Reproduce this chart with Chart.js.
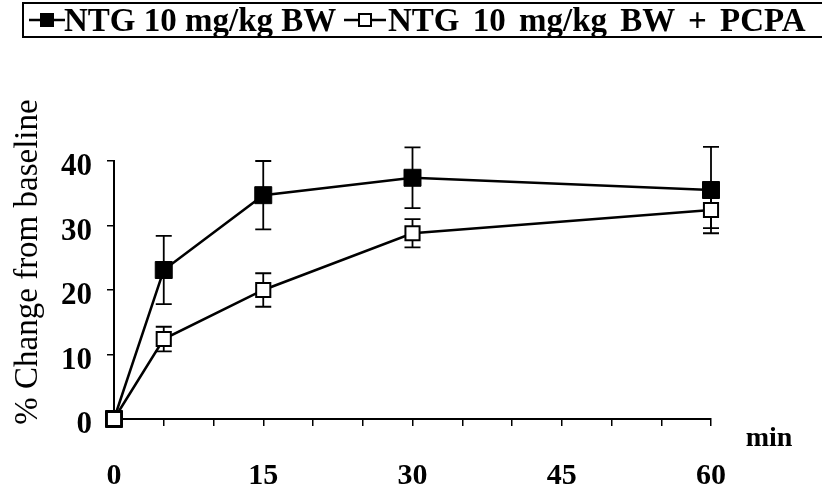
<!DOCTYPE html>
<html>
<head>
<meta charset="utf-8">
<script src="https://cdn.jsdelivr.net/npm/chart.js@4.4.1/dist/chart.umd.min.js"></script>
<style>
  html, body { margin: 0; padding: 0; background: #fff; }
  #wrap { position: relative; width: 822px; height: 488px; overflow: hidden; }
  #chart { position: absolute; left: 0; top: 0; }
  .legend {
    position: absolute; left: 22px; top: 2px; width: 810px; height: 36px;
    border: 2px solid #000; box-sizing: border-box;
    font: bold 33px "Liberation Serif", "Times New Roman", serif; color: #000;
    white-space: nowrap;
  }
  .legend svg, .legend .txt { position: absolute; top: 0; }
  .legend svg { top: 6px; }
  .legend .txt { line-height: 32px; }
</style>
</head>
<body>
<div id="wrap">
  <canvas id="chart" width="822" height="488"></canvas>
  <div class="legend">
    <svg width="36" height="20" style="left:5px"><line x1="0" y1="10" x2="36" y2="10" stroke="#000" stroke-width="2.5"/><rect x="11" y="3" width="14" height="14" fill="#000"/></svg>
    <span class="txt" style="left:40px">NTG 10 mg/kg BW</span>
    <svg width="42" height="20" style="left:320px"><line x1="0" y1="10" x2="42" y2="10" stroke="#000" stroke-width="2.5"/><rect x="15" y="4" width="12" height="12" fill="#fff" stroke="#000" stroke-width="2"/></svg>
    <span class="txt" style="left:364px; word-spacing:5px">NTG 10 mg/kg BW + PCPA</span>
  </div>
</div>
<script>
// time points (min) and % change from baseline
const timeMin = [0, 5, 15, 30, 60];
const ntgMean = [0, 23.1, 34.7, 37.4, 35.5];
const ntgErr = [0, 5.3, 5.3, 4.7, 6.7];
const pcpaMean = [0, 12.4, 20.0, 28.8, 32.4];
const pcpaErr = [0, 1.9, 2.6, 2.2, 2.8];

const xTickLabels = [0, 15, 30, 45, 60];
const yTickLabels = [0, 10, 20, 30, 40];

const serif = "'Liberation Serif', 'Times New Roman', serif";

const toPoints = (xs, ys) => xs.map((x, i) => ({ x, y: ys[i] }));

// vertical error bars with caps, drawn under each dataset's own line/markers
const errorBars = {
  id: "errorBars",
  beforeDatasetDraw(chart, args) {
    const ds = chart.data.datasets[args.index];
    if (!ds.errors) return;
    const { ctx, scales: { x, y } } = chart;
    ctx.save();
    ctx.strokeStyle = "#000";
    ctx.lineWidth = 1.8;
    ds.data.forEach((p, i) => {
      const e = ds.errors[i];
      if (!e) return;
      const px = x.getPixelForValue(p.x);
      const top = y.getPixelForValue(p.y + e);
      const bot = y.getPixelForValue(p.y - e);
      ctx.beginPath();
      ctx.moveTo(px, top); ctx.lineTo(px, bot);
      ctx.moveTo(px - 8, top); ctx.lineTo(px + 8, top);
      ctx.moveTo(px - 8, bot); ctx.lineTo(px + 8, bot);
      ctx.stroke();
    });
    ctx.restore();
  },
};

// axis title and unit text
const axisText = {
  id: "axisText",
  afterDraw(chart) {
    const { ctx, scales: { x } } = chart;
    ctx.save();
    ctx.fillStyle = "#000";
    ctx.font = `33px ${serif}`;
    ctx.textAlign = "center";
    ctx.textBaseline = "middle";
    ctx.translate(28, 262);
    ctx.rotate(-Math.PI / 2);
    ctx.fillText("% Change from baseline", 0, 0);
    ctx.restore();

    ctx.save();
    ctx.fillStyle = "#000";
    ctx.font = `bold 28px ${serif}`;
    ctx.textAlign = "center";
    ctx.textBaseline = "middle";
    ctx.fillText("min", x.right + 58, x.top + 20);
    ctx.restore();
  },
};

new Chart(document.getElementById("chart"), {
  type: "line",
  data: {
    datasets: [
      {
        label: "NTG 10 mg/kg BW",
        data: toPoints(timeMin, ntgMean),
        errors: ntgErr,
        borderColor: "#000",
        borderWidth: 2.5,
        pointStyle: "rect",
        pointRadius: 12,
        pointBackgroundColor: "#000",
        pointBorderColor: "#000",
        pointBorderWidth: 1,
        tension: 0,
        clip: false,
        order: 1,
      },
      {
        label: "NTG 10 mg/kg BW + PCPA",
        data: toPoints(timeMin, pcpaMean),
        errors: pcpaErr,
        borderColor: "#000",
        borderWidth: 2.5,
        pointStyle: "rect",
        pointRadius: 10,
        pointBackgroundColor: "#fff",
        pointBorderColor: "#000",
        pointBorderWidth: 2,
        tension: 0,
        clip: false,
        order: 0,
      },
    ],
  },
  options: {
    responsive: false,
    animation: false,
    layout: { padding: { top: 161, right: 111, left: 0, bottom: 0 } },
    scales: {
      x: {
        type: "linear",
        min: 0,
        max: 60,
        afterFit: (s) => { s.height = 69; },
        ticks: {
          stepSize: 5,
          autoSkip: false,
          maxRotation: 0,
          padding: 32,
          color: "#000",
          font: { family: serif, size: 30, weight: "bold", lineHeight: 1.2 },
          callback: (v) => (xTickLabels.includes(v) ? String(v) : ""),
        },
        grid: { drawOnChartArea: false, drawTicks: true, tickLength: 7, color: "#000", lineWidth: 1.5 },
        border: { color: "#000", width: 2 },
      },
      y: {
        min: 0,
        max: 40,
        afterFit: (s) => { s.width = 114; },
        ticks: {
          stepSize: 5,
          padding: 15,
          labelOffset: 6,
          color: "#000",
          font: { family: serif, size: 31, weight: "bold" },
          callback: (v) => (yTickLabels.includes(v) ? String(v) : ""),
        },
        grid: { drawOnChartArea: false, drawTicks: true, tickLength: 7, color: "#000", lineWidth: 1.5 },
        border: { color: "#000", width: 2 },
      },
    },
    plugins: {
      legend: { display: false },
      tooltip: { enabled: false },
    },
  },
  plugins: [errorBars, axisText],
});
</script>
</body>
</html>
